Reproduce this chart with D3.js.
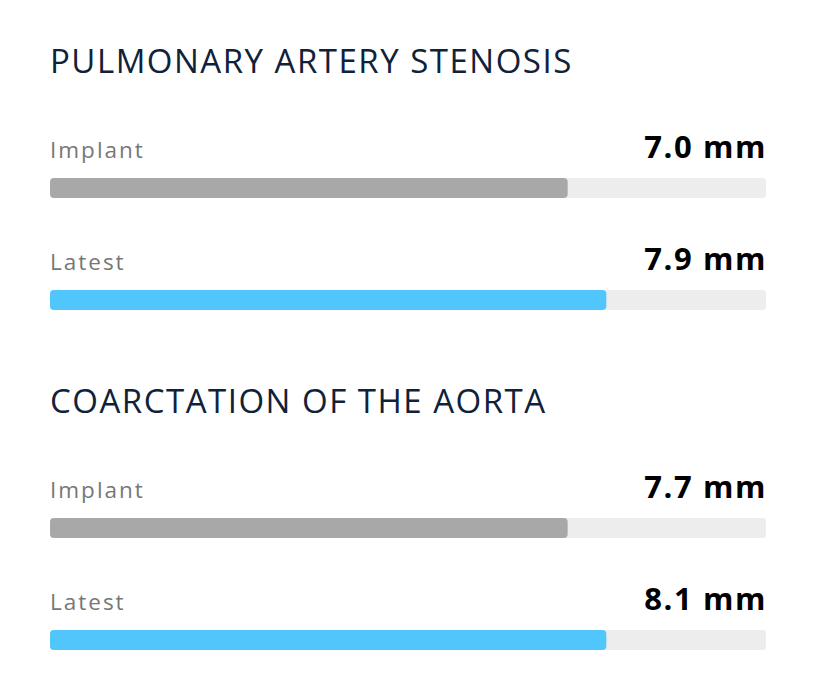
<!DOCTYPE html>
<html>
<head>
<meta charset="utf-8">
<script src="https://cdn.jsdelivr.net/npm/d3@7"></script>
<style>
  body { margin: 0; background: #fff; }
</style>
</head>
<body>
<div id="viz"></div>
<script>
// Chart data
const groupTitles = ["PULMONARY ARTERY STENOSIS", "COARCTATION OF THE AORTA"];
const rowLabels = ["Implant", "Latest"];
const valuesMm = [[7.0, 7.9], [7.7, 8.1]];
// how full each bar is drawn (percent of the track)
const fillPercent = [[72.3, 77.7], [72.3, 77.7]];

const width = 816;
const height = 700;

const svg = d3.select("#viz").append("svg")
    .attr("width", width)
    .attr("height", height);

// Horizontal scale for the bars
const x = d3.scaleLinear().domain([0, 100]).range([50, 766]);

// Vertical placement of groups and rows
const yGroup = d3.scaleLinear().domain([0, 1]).range([0, 340]);
const yRow = d3.scaleLinear().domain([0, 1]).range([0, 112]);

const barColors = ["#a8a8a8", "#50c6fd"];

const groups = svg.selectAll("g.group")
    .data(groupTitles)
    .enter()
    .append("g")
    .attr("class", "group")
    .attr("transform", (d, i) => `translate(0,${yGroup(i)})`);

groups.append("text")
    .attr("x", x(0))
    .attr("y", 73)
    .attr("font-family", "'Open Sans', sans-serif")
    .attr("font-size", 33)
    .attr("letter-spacing", 1.5)
    .attr("fill", "#10223a")
    .text(d => d);

const rows = groups.selectAll("g.row")
    .data((d, gi) => rowLabels.map((label, ri) => ({
        label: label,
        value: valuesMm[gi][ri],
        pct: fillPercent[gi][ri],
        ri: ri
    })))
    .enter()
    .append("g")
    .attr("class", "row")
    .attr("transform", d => `translate(0,${yRow(d.ri)})`);

rows.append("text")
    .attr("x", x(0))
    .attr("y", 158)
    .attr("font-family", "'Open Sans', sans-serif")
    .attr("font-size", 22.5)
    .attr("letter-spacing", 2)
    .attr("fill", "#777777")
    .text(d => d.label);

rows.append("text")
    .attr("x", x(100) + 1)
    .attr("y", 158)
    .attr("text-anchor", "end")
    .attr("font-family", "'Open Sans', sans-serif")
    .attr("font-weight", 700)
    .attr("font-size", 31)
    .attr("letter-spacing", 1.6)
    .attr("fill", "#000")
    .text(d => d3.format(".1f")(d.value) + " mm");

// background track
rows.append("rect")
    .attr("x", x(0))
    .attr("y", 178)
    .attr("width", x(100) - x(0))
    .attr("height", 20)
    .attr("rx", 4)
    .attr("fill", "#ededed");

// filled bar
rows.append("rect")
    .attr("x", x(0))
    .attr("y", 178)
    .attr("width", d => x(d.pct) - x(0))
    .attr("height", 20)
    .attr("rx", 4)
    .attr("fill", d => barColors[d.ri]);
</script>
</body>
</html>
